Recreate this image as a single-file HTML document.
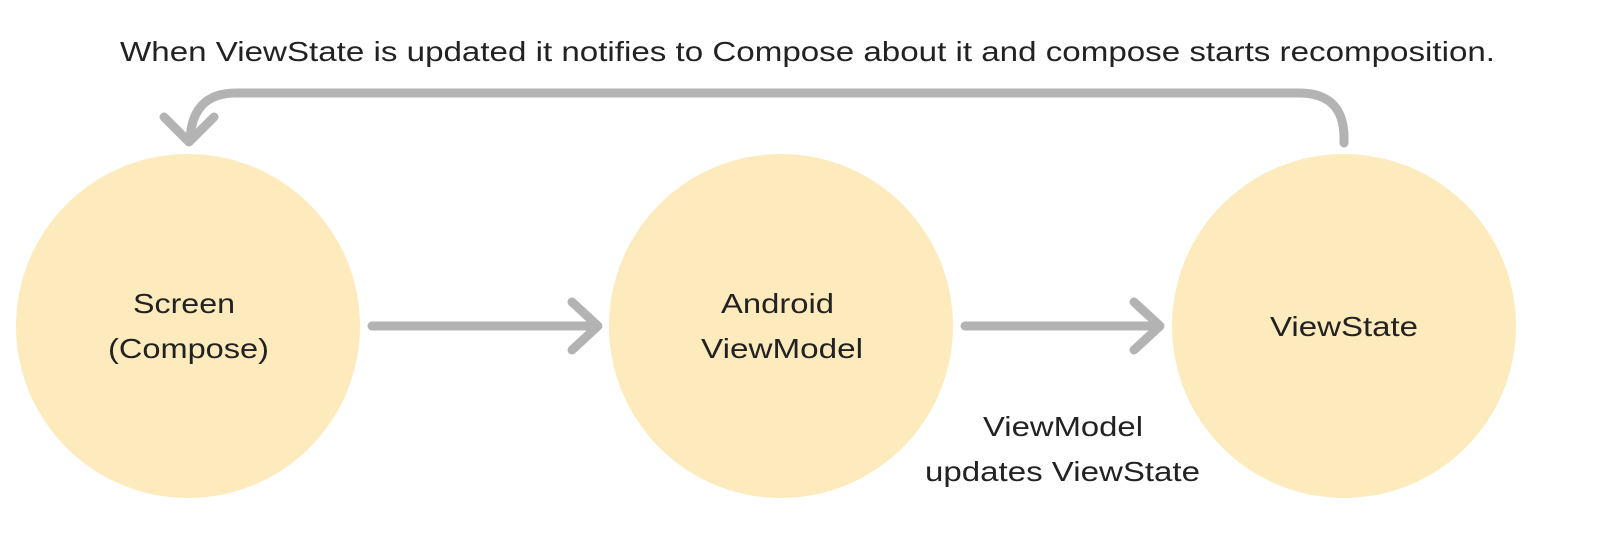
<!DOCTYPE html>
<html><head><meta charset="utf-8"><style>
html,body{margin:0;padding:0;background:#fff;}
svg{display:block;}
text{font-family:"Liberation Sans",sans-serif;fill:#222;}
</style></head><body>
<svg width="1607" height="551" viewBox="0 0 1607 551" xmlns="http://www.w3.org/2000/svg">
<text x="120" y="61" font-size="28" textLength="1375" lengthAdjust="spacingAndGlyphs">When ViewState is updated it notifies to Compose about it and compose starts recomposition.</text>
<circle cx="188" cy="326" r="172" fill="#fdebbd"/>
<circle cx="781" cy="326" r="172" fill="#fdebbd"/>
<circle cx="1344" cy="326" r="172" fill="#fdebbd"/>
<g fill="none" stroke="#b3b3b3" stroke-width="9" stroke-linecap="round" stroke-linejoin="round">
<path d="M372 326 H596 M572 302 L598 326 L572 350"/>
<path d="M965 326 H1158 M1134 302 L1160 326 L1134 350"/>
<path d="M1344 143 V138 Q1344 93 1299 93 H236 Q192 93 190 140"/>
<path d="M164 117 L189 142 L214 117"/>
</g>
<g font-size="28">
<text x="133" y="313" textLength="102" lengthAdjust="spacingAndGlyphs">Screen</text>
<text x="108" y="358" textLength="161" lengthAdjust="spacingAndGlyphs">(Compose)</text>
<text x="721" y="313" textLength="113" lengthAdjust="spacingAndGlyphs">Android</text>
<text x="701" y="358" textLength="162" lengthAdjust="spacingAndGlyphs">ViewModel</text>
<text x="1270" y="336" textLength="148" lengthAdjust="spacingAndGlyphs">ViewState</text>
<text x="983" y="436" textLength="160" lengthAdjust="spacingAndGlyphs">ViewModel</text>
<text x="925" y="481" textLength="275" lengthAdjust="spacingAndGlyphs">updates ViewState</text>
</g>
</svg>
</body></html>
